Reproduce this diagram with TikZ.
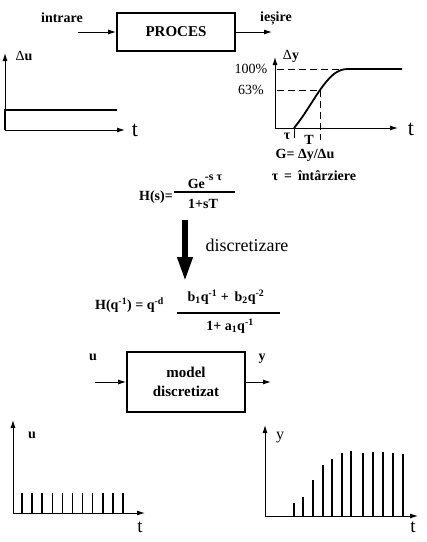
\documentclass[tikz,border=0pt]{standalone}
\usepackage{fontspec}
\setmainfont{Liberation Serif}
\usetikzlibrary{arrows.meta,positioning,calc}

\newcommand{\upbig}[1]{\raisebox{0.6em}{\fontsize{12}{13}\selectfont #1}}

\tikzset{
  block/.style={draw, line width=1.6pt, minimum width=118pt, align=center,
    font=\fontsize{15}{19}\selectfont\bfseries},
  lbl/.style={font=\fontsize{14}{16}\selectfont\bfseries, inner sep=1pt},
  pct/.style={font=\fontsize{14}{16}\selectfont, inner sep=1pt},
  tlbl/.style={font=\fontsize{22}{24}\selectfont, inner sep=1pt},
  frm/.style={font=\fontsize{14}{16}\selectfont\bfseries, inner sep=1pt},
  sig/.style={-{Latex[length=8pt,width=5pt]}, line width=1pt},
  axis/.style={-{Latex[length=8pt,width=5pt]}, line width=1pt},
  curve/.style={line width=1.8pt},
  stem/.style={line width=1.5pt},
  guide/.style={dashed, dash pattern=on 7pt off 4pt, line width=0.7pt},
}

\begin{document}
\begin{tikzpicture}[x=1pt,y=-1pt]
    \useasboundingbox (0,0) rectangle (427,542);

    % continuous process
    \node[block, minimum height=38pt] (proc) at (176,32) {PROCES};
    \coordinate (in) at (78,32);
    \coordinate (out) at (272,32);
    \draw[sig] (in) -- (proc);
    \draw[sig] (proc) -- (out);
    \node[lbl] (intrare) at (62,18) {intrare};
    \node[lbl] (iesire) at (276,18) {ieșire};

    % input step
    \draw[axis] (5,130) -- (5,53);
    \draw[axis] (5,130) -- (125,130);
    \draw[curve] (5,130) -- (5,110) -- (117,110);
    \node[lbl] (du) at (24,56) {\mdseries Δ\bfseries u};
    \node[tlbl] (t1) at (135,130) {t};

    % step response
    \draw[axis] (275,128) -- (275,57);
    \draw[axis] (275,128) -- (398,128);
    \node[lbl] (dy) at (291,56) {\mdseries Δ\bfseries y};
    \node[tlbl] (t2) at (411,129) {t};
    \node[pct] (p100) at (251,69) {100\%};
    \node[pct] (p63) at (251,90) {63\%};
    \draw[guide] (277,69) -- (346,69);
    \draw[guide] (277,90) -- (320,90);
    \draw[guide] (320,90) -- (320,140);
    \draw[line width=0.7pt] (294,128) -- (294,138);
    \draw[curve] (294,128) .. controls (304,116) and (311,103) .. (320,90)
        .. controls (330,76) and (337,69) .. (348,69) -- (402,69);
    \node[lbl] (tau) at (287,136) {τ};
    \node[lbl] (T) at (309,140) {T};
    \node[lbl] (gain) at (305,155) {G= Δy/Δu};
    \node[lbl] (delay) at (314,176) {τ \,=\, întârziere};

    % continuous transfer function
    \node[frm, anchor=east] (hs) at (174,197) {H(s)=};
    \node[frm] (hsnum) at (205,182) {Ge\upbig{-s τ}};
    \node[frm] (hsden) at (203,204) {1+sT};
    \draw[line width=1.3pt] (174,192) -- (235,192);

    % discretisation
    \draw[-{Triangle[length=25pt,width=14pt]}, line width=6.5pt] (185,220) -- (185,282);
    \node[font=\fontsize{18}{20}\selectfont] (disc) at (247,245) {discretizare};

    % discrete transfer function
    \node[frm, anchor=east] (hq) at (165,305) {H(q\textsuperscript{-1}) = q\textsuperscript{-d}};
    \node[frm] (hqnum) at (226,297) {b\textsubscript{1}q\textsuperscript{-1} + \,b\textsubscript{2}q\textsuperscript{-2}};
    \node[frm] (hqden) at (230,326) {1+ a\textsubscript{1}q\textsuperscript{-1}};
    \draw[line width=1.3pt] (177,313) -- (280,313);

    % discrete model
    \node[block, minimum height=60pt] (model) at (186,382) {model\\discretizat};
    \coordinate (uin) at (95,382);
    \coordinate (yout) at (271,382);
    \draw[sig] (uin) -- (model);
    \draw[sig] (model) -- (yout);
    \node[lbl] (u) at (93,357) {u};
    \node[lbl] (y) at (262,359) {y};

    % sampled input
    \draw[axis] (13,513) -- (13,420);
    \draw[axis] (13,513) -- (145,513);
    \foreach \i in {0,...,10}
        \draw[stem] ({22+10.1*\i},513) -- ({22+10.1*\i},493);
    \node[lbl] (u2) at (32,435) {u};
    \node[tlbl, font=\fontsize{19}{21}\selectfont] (t3) at (140,527) {t};

    % sampled output
    \draw[axis] (265,516) -- (265,425);
    \draw[axis] (265,516) -- (418,516);
    \foreach \x/\h in {294/503, 303/497, 313/480, 323/465, 332/459, 342/453,
                       351/451, 363/453, 373/452, 383/452, 393/453, 403/454}
        \draw[stem] (\x,516) -- (\x,\h);
    \node[pct, font=\fontsize{16}{18}\selectfont] (y2) at (280,438) {y};
    \node[tlbl, font=\fontsize{19}{21}\selectfont] (t4) at (413,527) {t};
\end{tikzpicture}
\end{document}
